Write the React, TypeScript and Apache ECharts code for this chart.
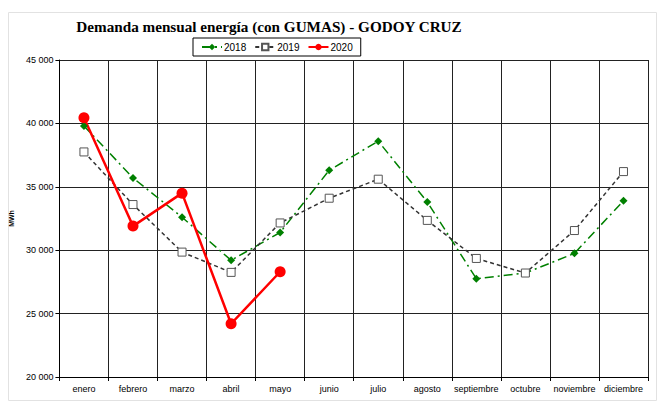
import React, { useEffect, useRef } from "react";
import * as echarts from "echarts";

const months = ["enero", "febrero", "marzo", "abril", "mayo", "junio", "julio", "agosto", "septiembre", "octubre", "noviembre", "diciembre"];
const values2018 = [39800, 35700, 32600, 29200, 31400, 36300, 38600, 33800, 27750, 28200, 29750, 33900];
const values2019 = [37750, 33600, 29850, 28250, 32150, 34100, 35600, 32350, 29350, 28200, 31550, 36200];
const values2020 = [40450, 31900, 34500, 24200, 28300];
const titleText = "Demanda mensual energía (con GUMAS) - GODOY CRUZ";
const unitName = "MWh";

const fmt = (v: number) => {
  const s = String(Math.round(v));
  return s.length > 3 ? s.slice(0, s.length - 3) + " " + s.slice(-3) : s;
};

export default function App() {
  const ref = useRef<HTMLDivElement>(null);
  useEffect(() => {
    if (!ref.current) return;
    const chart = echarts.init(ref.current, undefined, { renderer: "svg" });
    const sansFont = "Liberation Sans, Arial, sans-serif";
    chart.setOption({
      animation: false,
      backgroundColor: "#fff",
      graphic: [
        {
          type: "rect",
          shape: { x: 8.5, y: 12.5, width: 648, height: 388 },
          style: { fill: "none", stroke: "#e2e2e2", lineWidth: 1 },
          silent: true,
        },
      ],
      title: {
        text: titleText,
        left: 264,
        top: 14,
        textAlign: "center",
        textStyle: { fontFamily: "Liberation Serif, Times New Roman, serif", fontWeight: "bold", fontSize: 15.2, color: "#000" },
      },
      legend: {
        top: 38,
        left: 193,
        borderColor: "#000",
        borderWidth: 1,
        padding: [4, 8, 4, 8],
        itemGap: 8,
        itemWidth: 20,
        itemHeight: 8,
        textStyle: { fontFamily: sansFont, fontSize: 10, color: "#000", padding: [0, 0, 0, -3] },
        data: ["2018", "2019", "2020"],
      },
      grid: { left: 58, right: 9, top: 60, bottom: 25, containLabel: false },
      xAxis: {
        type: "category",
        data: months,
        boundaryGap: true,
        axisLine: { lineStyle: { color: "#000", width: 1 } },
        axisTick: { show: true, length: 4, lineStyle: { color: "#000" } },
        axisLabel: { fontFamily: sansFont, fontSize: 9, color: "#000", margin: 7, interval: 0 },
        splitLine: { show: true, interval: 0, lineStyle: { color: "#222", width: 1 } },
      },
      yAxis: {
        type: "value",
        min: 20000,
        max: 45000,
        interval: 5000,
        name: unitName,
        nameLocation: "middle",
        nameGap: 36,
        nameTextStyle: { fontFamily: sansFont, fontSize: 7, fontWeight: "bold", color: "#000" },
        axisLine: { show: true, lineStyle: { color: "#000", width: 1 } },
        axisTick: { show: true, length: 4, lineStyle: { color: "#000" } },
        axisLabel: { fontFamily: sansFont, fontSize: 9, color: "#000", margin: 6, formatter: (v: number) => fmt(v) },
        splitLine: { show: true, lineStyle: { color: "#222", width: 1 } },
      },
      series: [
        {
          name: "2018",
          type: "line",
          data: values2018,
          symbol: "diamond",
          symbolSize: 8,
          itemStyle: { color: "#008000" },
          lineStyle: { color: "#008000", width: 1.5, type: [9, 4, 2, 4] },
        },
        {
          name: "2019",
          type: "line",
          data: values2019,
          symbol: "rect",
          symbolSize: 8,
          itemStyle: { color: "#fff", borderColor: "#555", borderWidth: 1 },
          lineStyle: { color: "#333", width: 1.5, type: [4, 3] },
        },
        {
          name: "2020",
          type: "line",
          data: values2020,
          symbol: "circle",
          symbolSize: 11,
          itemStyle: { color: "#ff0000" },
          lineStyle: { color: "#ff0000", width: 2.5 },
          z: 3,
        },
      ],
    });
    return () => chart.dispose();
  }, []);
  return <div ref={ref} style={{ position: "fixed", left: 0, top: 0, width: 657, height: 402 }} />;
}
